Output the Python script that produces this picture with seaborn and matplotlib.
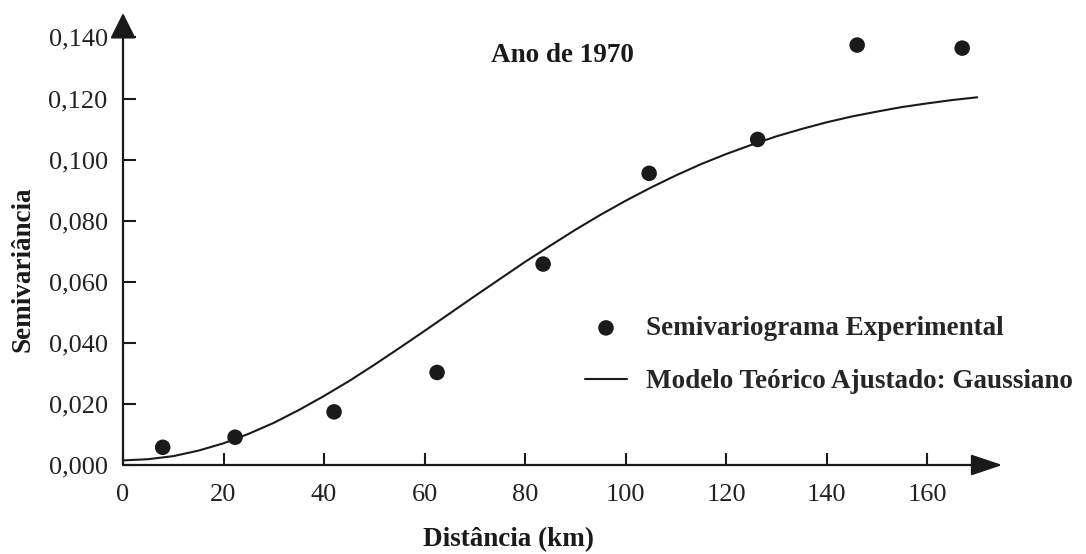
import matplotlib
matplotlib.use("Agg")
import matplotlib.pyplot as plt
from matplotlib.patches import ArrowStyle
import seaborn as sns

# Experimental semivariogram (lag distance in km, semivariance)
lag_km = [7.9, 22.3, 42.0, 62.5, 83.6, 104.7, 126.3, 146.1, 167.0]
semivariance = [0.0058, 0.0091, 0.0174, 0.0303, 0.0658, 0.0955, 0.1066, 0.1375, 0.1365]

# Fitted Gaussian model, sampled every 5 km along the distance axis
model_km = [0, 5, 10, 15, 20, 25, 30, 35, 40, 45, 50, 55, 60, 65, 70, 75, 80, 85,
            90, 95, 100, 105, 110, 115, 120, 125, 130, 135, 140, 145, 150, 155,
            160, 165, 170]
model_gamma = [0.0015, 0.0019, 0.0029, 0.0047, 0.0071, 0.0102, 0.0138, 0.0180,
               0.0226, 0.0275, 0.0328, 0.0383, 0.0439, 0.0496, 0.0553, 0.0609,
               0.0665, 0.0718, 0.0770, 0.0819, 0.0865, 0.0908, 0.0948, 0.0985,
               0.1018, 0.1048, 0.1076, 0.1100, 0.1122, 0.1141, 0.1157, 0.1172,
               0.1184, 0.1195, 0.1204]

x_ticks = [0, 20, 40, 60, 80, 100, 120, 140, 160]
y_ticks = [0.0, 0.02, 0.04, 0.06, 0.08, 0.10, 0.12, 0.14]
y_tick_labels = ["0,000", "0,020", "0,040", "0,060", "0,080", "0,100", "0,120", "0,140"]

title = "Ano de 1970"
x_label = "Distância (km)"
y_label = "Semivariância"
points_label = "Semivariograma Experimental"
model_label = "Modelo Teórico Ajustado: Gaussiano"

sns.set_style("white")
plt.rcParams["font.family"] = ["Liberation Serif", "DejaVu Serif"]

ink = "#1a1a1a"
fig = plt.figure(figsize=(10.86, 5.54), dpi=100)
ax = fig.add_axes([0.11326, 0.16065, 0.80976, 0.81588])

sns.lineplot(x=model_km, y=model_gamma, ax=ax, color=ink, linewidth=1.5,
             label=model_label, zorder=2)
sns.scatterplot(x=lag_km, y=semivariance, ax=ax, color=ink, s=125,
                edgecolor="none", label=points_label, zorder=3)

ax.set_xlim(0, 175)
ax.set_ylim(0, 0.148)

for side in ("top", "right", "left", "bottom"):
    ax.spines[side].set_visible(False)

# Axis lines with arrowheads
ax.annotate("", xy=(1, 0), xytext=(0, 0), xycoords="axes fraction",
            arrowprops=dict(arrowstyle=ArrowStyle("-|>", head_length=1.94, head_width=0.65),
                            mutation_scale=10, lw=1.6, color=ink, shrinkA=0, shrinkB=0),
            annotation_clip=False)
ax.annotate("", xy=(0, 1), xytext=(0, 0), xycoords="axes fraction",
            arrowprops=dict(arrowstyle=ArrowStyle("-|>", head_length=1.58, head_width=0.79),
                            mutation_scale=10, lw=1.6, color=ink, shrinkA=0, shrinkB=0),
            annotation_clip=False)

ax.set_xticks(x_ticks)
ax.set_xticklabels([str(v) for v in x_ticks])
ax.set_yticks(y_ticks)
ax.set_yticklabels(y_tick_labels)
ax.tick_params(axis="both", direction="in", length=9, width=1.5, color=ink,
               labelsize=19, labelcolor="#222222")
ax.tick_params(axis="x", pad=14, bottom=True)
ax.tick_params(axis="y", pad=11, left=True)

ax.set_xlabel(x_label, fontsize=19.5, fontweight="bold", color=ink)
ax.xaxis.set_label_coords(0.438, -0.137)
ax.set_ylabel(y_label, fontsize=19.5, fontweight="bold", color=ink)
ax.yaxis.set_label_coords(-0.100, 0.434)

ax.set_title(title, y=0.8916, pad=0, fontsize=19.5, fontweight="bold", color=ink)

handles, labels = ax.get_legend_handles_labels()
order = [labels.index(points_label), labels.index(model_label)]
ax.legend([handles[i] for i in order], [labels[i] for i in order],
          loc="upper left", bbox_to_anchor=(585 / 1086, 1 - 316 / 554),
          bbox_transform=fig.transFigure, frameon=False,
          prop={"weight": "bold", "size": 19.5}, handlelength=1.55,
          handletextpad=0.72, labelspacing=1.05, borderpad=0, borderaxespad=0,
          markerscale=1.0)

fig.savefig("out.png", dpi=100)
